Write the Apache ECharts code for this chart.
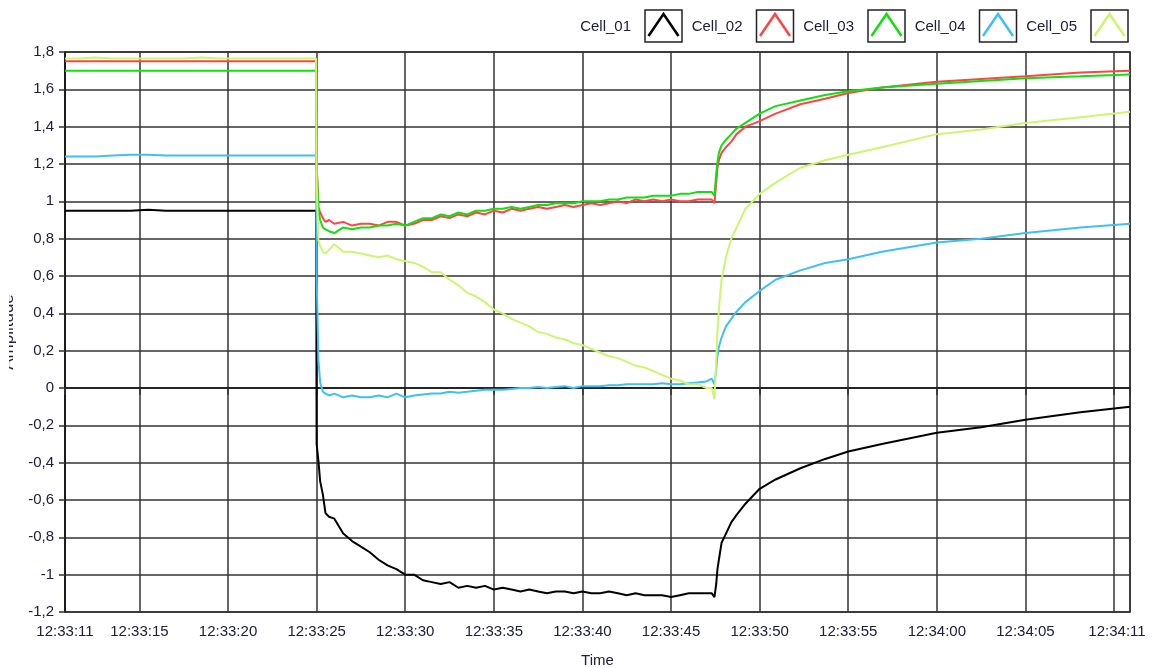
<!DOCTYPE html>
<html><head><meta charset="utf-8">
<script src="https://cdn.jsdelivr.net/npm/echarts@6/dist/echarts.min.js"></script>
<style>html,body{margin:0;padding:0;background:#fff;}#c{width:1160px;height:668px;}</style>
</head><body><div id="c"></div>
<script>
// ---- data (time in seconds after 12:33:00) ----
const seriesNames = ['Cell_01', 'Cell_02', 'Cell_03', 'Cell_04', 'Cell_05'];
const seriesColors = ['#000000', '#ff4444', '#10e010', '#40bff5', '#cdf570'];

const times = [
  10.8, 11.5, 12.5, 13.5, 14.5, 15.5, 16.5, 17.5, 18.5, 19.5, 20.5, 21.5, 22.5, 23.5, 24.5, 24.97,
  25.0, 25.1, 25.2, 25.35, 25.5, 25.7,
  26.0, 26.5, 27.0, 27.5, 28.0, 28.5, 29.0, 29.5, 30.0, 30.5,
  31.0, 31.5, 32.0, 32.5, 33.0, 33.5, 34.0, 34.5, 35.0, 35.5,
  36.0, 36.5, 37.0, 37.5, 38.0, 38.5, 39.0, 39.5, 40.0, 40.5,
  41.0, 41.5, 42.0, 42.5, 43.0, 43.5, 44.0, 44.5, 45.0, 45.5,
  46.0, 46.5, 47.0,
  47.3, 47.45, 47.55, 47.62, 47.7, 47.85, 48.1, 48.4, 48.7, 49.2, 50.0, 50.9, 52.3, 53.7, 55.0, 56.9, 60.0, 62.5, 65.0, 68.1, 70.9
];

const cell01 = [
  0.95, 0.95, 0.95, 0.95, 0.95, 0.955, 0.95, 0.95, 0.95, 0.95, 0.95, 0.95, 0.95, 0.95, 0.95, 0.95,
  -0.30, -0.39, -0.50, -0.57, -0.67, -0.69,
  -0.70, -0.78, -0.82, -0.85, -0.88, -0.92, -0.95, -0.97, -1.00, -1.00,
  -1.03, -1.04, -1.05, -1.04, -1.07, -1.06, -1.07, -1.06, -1.08, -1.07,
  -1.08, -1.09, -1.08, -1.09, -1.10, -1.09, -1.09, -1.10, -1.09, -1.10,
  -1.10, -1.09, -1.10, -1.11, -1.10, -1.11, -1.11, -1.11, -1.12, -1.11,
  -1.10, -1.10, -1.10,
  -1.10, -1.12, -1.05, -0.97, -0.92, -0.83, -0.78, -0.72, -0.68, -0.62, -0.54, -0.49, -0.43, -0.38, -0.34, -0.30, -0.24, -0.21, -0.17, -0.13, -0.10
];

const cell02 = [
  1.75, 1.75, 1.75, 1.75, 1.75, 1.75, 1.75, 1.75, 1.75, 1.75, 1.75, 1.75, 1.75, 1.75, 1.75, 1.75,
  1.20, 0.97, 0.94, 0.91, 0.89, 0.90,
  0.88, 0.89, 0.87, 0.88, 0.88, 0.87, 0.89, 0.89, 0.87, 0.88,
  0.90, 0.90, 0.92, 0.91, 0.93, 0.92, 0.94, 0.93, 0.95, 0.94,
  0.96, 0.95, 0.96, 0.97, 0.96, 0.97, 0.98, 0.97, 0.98, 0.99,
  0.98, 0.99, 1.00, 0.99, 1.01, 1.00, 1.01, 1.00, 1.01, 1.00,
  1.00, 1.01, 1.01,
  1.01, 0.99, 1.10, 1.18, 1.22, 1.26, 1.29, 1.32, 1.36, 1.40, 1.43, 1.47, 1.52, 1.55, 1.58, 1.61, 1.64, 1.655, 1.67, 1.69, 1.70
];

const cell03 = [
  1.70, 1.70, 1.70, 1.70, 1.70, 1.70, 1.70, 1.70, 1.70, 1.70, 1.70, 1.70, 1.70, 1.70, 1.70, 1.70,
  1.20, 0.95, 0.90, 0.86, 0.85, 0.84,
  0.83, 0.86, 0.85, 0.86, 0.86, 0.87, 0.87, 0.88, 0.87, 0.89,
  0.91, 0.91, 0.93, 0.92, 0.94, 0.93, 0.95, 0.95, 0.96, 0.96,
  0.97, 0.96, 0.97, 0.98, 0.98, 0.99, 0.99, 0.99, 1.00, 1.00,
  1.00, 1.01, 1.01, 1.02, 1.02, 1.02, 1.03, 1.03, 1.03, 1.04,
  1.04, 1.05, 1.05,
  1.05, 1.03, 1.15, 1.21, 1.26, 1.30, 1.33, 1.36, 1.39, 1.42, 1.47, 1.51, 1.54, 1.57, 1.59, 1.61, 1.63, 1.645, 1.66, 1.67, 1.68
];

const cell04 = [
  1.24, 1.24, 1.24, 1.245, 1.25, 1.25, 1.245, 1.245, 1.245, 1.245, 1.245, 1.245, 1.245, 1.245, 1.245, 1.245,
  0.60, 0.15, 0.03, -0.02, -0.03, -0.04,
  -0.03, -0.05, -0.04, -0.05, -0.05, -0.04, -0.05, -0.03, -0.05, -0.04,
  -0.035, -0.03, -0.03, -0.02, -0.025, -0.02, -0.015, -0.01, -0.01, -0.01,
  -0.005, 0.0, 0.0, 0.005, 0.0, 0.005, 0.01, 0.0, 0.01, 0.01,
  0.01, 0.015, 0.015, 0.02, 0.02, 0.02, 0.02, 0.025, 0.02, 0.02,
  0.025, 0.03, 0.035,
  0.05, 0.02, 0.10, 0.17, 0.22, 0.27, 0.33, 0.37, 0.41, 0.46, 0.52, 0.58, 0.63, 0.67, 0.69, 0.73, 0.78, 0.80, 0.83, 0.86, 0.88
];

const cell05 = [
  1.765, 1.765, 1.77, 1.765, 1.765, 1.765, 1.765, 1.765, 1.77, 1.765, 1.765, 1.765, 1.765, 1.765, 1.765, 1.765,
  1.10, 0.79, 0.76, 0.73, 0.72, 0.74,
  0.77, 0.73, 0.73, 0.72, 0.71, 0.70, 0.71, 0.69, 0.68, 0.67,
  0.65, 0.62, 0.62, 0.58, 0.55, 0.51, 0.49, 0.46, 0.42, 0.40,
  0.37, 0.35, 0.33, 0.30, 0.29, 0.27, 0.26, 0.24, 0.23, 0.21,
  0.19, 0.17, 0.16, 0.14, 0.12, 0.11, 0.09, 0.07, 0.05, 0.04,
  0.02, 0.02, 0.00,
  0.00, -0.06, 0.15, 0.30, 0.42, 0.58, 0.70, 0.80, 0.86, 0.96, 1.04, 1.10, 1.18, 1.22, 1.25, 1.29, 1.36, 1.385, 1.42, 1.45, 1.48
];

const seriesValues = [cell01, cell02, cell03, cell04, cell05];

// axis ticks / labels
const xMin = 10.8, xMax = 70.9;
const xLabelValues = [10.8, 15, 20, 25, 30, 35, 40, 45, 50, 55, 60, 65, 70.9];
const xTickValues = [10.8, 15, 20, 25, 30, 35, 40, 45, 50, 55, 60, 65, 70, 70.9];
const yMin = -1.2, yMax = 1.8, yStep = 0.2;

// ---- chart ----
const FONT = 'Liberation Sans';
const TXT = '#20203c';

function fmtTime(t) {
  const s = Math.round(t);
  const m = 33 + Math.floor(s / 60);
  const ss = s % 60;
  return '12:' + m + ':' + String(ss).padStart(2, '0');
}
function fmtNum(v) {
  let r = Math.round(v * 10) / 10;
  if (Math.abs(r) < 1e-9) r = 0;
  return String(r).replace('.', ',');
}

const graphic = [];
const legStep = 111.5, boxX0 = 645, boxY = 10, boxW = 37, boxH = 32;
seriesNames.forEach((name, i) => {
  const bx = boxX0 + i * legStep;
  graphic.push({
    type: 'text', x: bx - 14, y: boxY + boxH / 2 + 1,
    style: { text: name, fill: TXT, font: '15px "' + FONT + '"', textAlign: 'right', textVerticalAlign: 'middle' }
  });
  graphic.push({
    type: 'rect', x: bx, y: boxY, shape: { x: 0, y: 0, width: boxW, height: boxH },
    style: { fill: '#fff', stroke: '#222', lineWidth: 1.5 }
  });
  graphic.push({
    type: 'polyline', x: bx, y: boxY,
    shape: { points: [[3.5, boxH - 6], [boxW / 2, 4], [boxW - 3.5, boxH - 6]] },
    style: { fill: null, stroke: seriesColors[i], lineWidth: 2.5 }
  });
});
// white strip: y-axis title is cut at the left edge in the original
graphic.push({ type: 'rect', x: 0, y: 250, shape: { x: 0, y: 0, width: 9, height: 170 }, style: { fill: '#fff' }, z: 100 });

const chart = echarts.init(document.getElementById('c'), null, { renderer: 'canvas' });
chart.setOption({
  animation: false,
  backgroundColor: '#fff',
  textStyle: { fontFamily: FONT },
  grid: {
    left: 65, right: 30, top: 52, bottom: 56, containLabel: false, outerBoundsMode: 'none',
    show: true, borderColor: '#222', borderWidth: 1.5, backgroundColor: '#fff'
  },
  graphic: graphic,
  xAxis: {
    type: 'value', min: xMin, max: xMax,
    name: 'Time', nameLocation: 'middle', nameGap: 41,
    nameTextStyle: { color: TXT, fontSize: 15, fontFamily: FONT },
    axisLine: { show: true, lineStyle: { color: '#111', width: 1.5 } },
    axisTick: { show: true, length: 7, customValues: xTickValues, lineStyle: { color: '#333', width: 1.5 } },
    axisLabel: {
      customValues: xLabelValues, margin: 12, color: TXT, fontSize: 15, fontFamily: FONT,
      formatter: v => (v > 70.5 ? '{last|' + fmtTime(v) + '}' : fmtTime(v)),
      rich: { last: { padding: [0, 26, 0, 0], color: TXT, fontSize: 15, fontFamily: FONT } }
    },
    splitLine: { show: true, lineStyle: { color: '#333', width: 1.5 } }
  },
  yAxis: {
    type: 'value', min: yMin, max: yMax, interval: yStep,
    name: 'Amplitude', nameLocation: 'middle', nameGap: 37, nameRotate: 90,
    nameTextStyle: { color: TXT, fontSize: 17, fontFamily: FONT },
    axisLine: { show: true, lineStyle: { color: '#111', width: 1.5 } },
    axisTick: { show: true, length: 6, lineStyle: { color: '#333', width: 1.5 } },
    axisLabel: { margin: 11, color: TXT, fontSize: 15, fontFamily: FONT, formatter: fmtNum },
    splitLine: { show: true, lineStyle: { color: '#333', width: 1.5 } }
  },
  series: seriesNames.map((name, i) => ({
    name: name, type: 'line', showSymbol: false, symbol: 'none',
    data: times.map((t, k) => [t, seriesValues[i][k]]),
    lineStyle: { color: seriesColors[i], width: 2 },
    itemStyle: { color: seriesColors[i] },
    clip: true
  }))
});
</script>
</body></html>
